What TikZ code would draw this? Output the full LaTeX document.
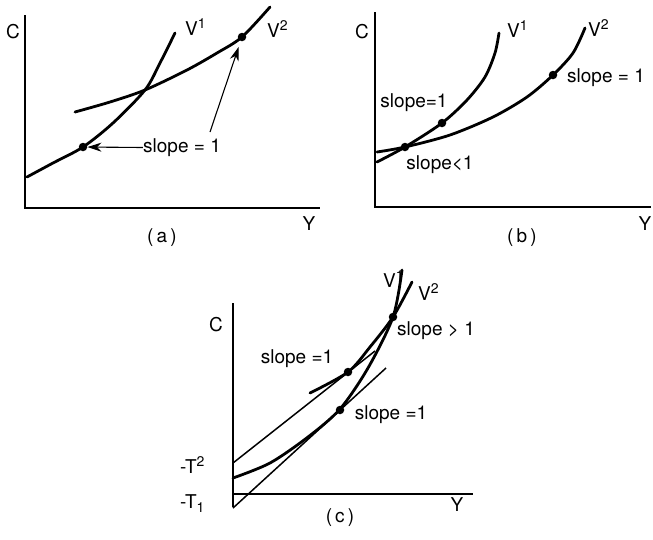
\documentclass[tikz,border=0pt]{standalone}
\usepackage{fontspec}
\setmainfont{TeX Gyre Heros}
\usetikzlibrary{arrows.meta, positioning}

% raised / lowered small digits for the curve and intercept labels
\newcommand{\supnum}[1]{\raisebox{6.5pt}{\fontsize{14}{14}\selectfont #1}}
\newcommand{\subnum}[1]{\raisebox{-4pt}{\fontsize{14}{14}\selectfont #1}}

\tikzset{
  axis/.style={line width=2.3pt},
  curve/.style={line width=2.8pt, line cap=round},
  tangent/.style={line width=1.5pt},
  pointer/.style={line width=1.1pt, -{Stealth[length=14pt, width=9pt]}},
  dot/.style={circle, fill, inner sep=0pt, minimum size=8.5pt},
  lbl/.style={inner sep=0pt},
}

\begin{document}
\begin{tikzpicture}[x=1pt, y=-1pt, font=\fontsize{19}{21}\selectfont]
  \useasboundingbox (0,0) rectangle (653,539);

  % ---------------- panel (a)
  \draw[axis] (25,15) -- (25,208) -- (320,208);
  \node[lbl] (aC) at (13,32) {C};
  \node[lbl] (aY) at (309,224) {Y};
  \node[lbl] (acap) at (162,238) {(\,a\,)};

  % V^1 steep, V^2 flat
  \draw[curve] plot[smooth] coordinates
    {(27,177) (53,163) (83,147) (113,123) (145,90) (160,63) (175,33)};
  \draw[curve] plot[smooth] coordinates
    {(75,112) (110,102) (145,90) (187,70) (217,53) (242,37) (270,7)};
  \node[lbl, anchor=base west] (aV1) at (185,35) {V\supnum{1}};
  \node[lbl, anchor=base west] (aV2) at (267,37) {V\supnum{2}};

  \node[dot] (adot1) at (83,147) {};
  \node[dot] (adot2) at (242,37) {};
  \node[lbl] (aslope) at (182,147.5) {slope = 1};
  \coordinate (afoot) at (210,132);

  \draw[pointer] (aslope.west) -- (adot1);
  \draw[pointer, shorten >=6pt] (afoot) -- (adot2);

  % ---------------- panel (b)
  \draw[axis] (375,12) -- (375,207) -- (651,207);
  \node[lbl] (bC) at (362,32) {C};
  \node[lbl] (bY) at (645,224) {Y};
  \node[lbl] (bcap) at (522,238) {(\,b\,)};

  \draw[curve] plot[smooth] coordinates
    {(377,162) (405,147) (442,123) (467,100) (485,77) (495,53) (499,33)};
  \draw[curve] plot[smooth] coordinates
    {(377,152) (405,147) (450,135) (493,117) (527,97) (553,75) (573,53) (585,28)};
  \node[lbl, anchor=base west] (bV1) at (507,37) {V\supnum{1}};
  \node[lbl, anchor=base west] (bV2) at (588,36) {V\supnum{2}};

  \node[dot] (bdot1) at (405,147) {};
  \node[dot] (bdot2) at (442,123) {};
  \node[dot] (bdot3) at (553,75) {};
  \node[lbl] (bslope1) at (414,102.5) {slope=1};
  \node[lbl] (bslope2) at (440,164.5) {slope<1};
  \node[lbl] (bslope3) at (606,77.5) {slope = 1};

  % ---------------- panel (c)
  \draw[axis] (233,303) -- (233,507);
  \draw[axis] (233,494) -- (473,494);
  \node[lbl] (cC) at (216,325) {C};
  \node[lbl] (cY) at (457,505) {Y};
  \node[lbl] (ccap) at (340,518) {(\,c\,)};
  \node[lbl, anchor=base west] (cT2) at (180,473) {-T\supnum{2}};
  \node[lbl, anchor=base west] (cT1) at (180,508) {-T\subnum{1}};

  \draw[curve] plot[smooth] coordinates
    {(233,478) (270,463) (308,437) (340,409) (368,368) (393,317) (402,270)};
  \draw[curve] plot[smooth] coordinates
    {(310,393) (348,372) (370,347) (393,317) (412,282)};
  \node[lbl, anchor=base west] (cV1) at (383,287) {V\supnum{1}};
  \node[lbl, anchor=base west] (cV2) at (418,300) {V\supnum{2}};

  % tangent lines through the intercepts
  \coordinate (cup0) at (233,463);
  \coordinate (cup1) at (375,351);
  \coordinate (clow0) at (233,508);
  \coordinate (clow1) at (386,368);
  \draw[tangent] (cup0) -- (cup1);
  \draw[tangent] (clow0) -- (clow1);

  \node[dot] (cdot1) at (348,372) {};
  \node[dot] (cdot2) at (340,410) {};
  \node[dot] (cdot3) at (393,317) {};
  \node[lbl] (cslope1) at (297,359) {slope =1};
  \node[lbl] (cslope2) at (391,415) {slope =1};
  \node[lbl] (cslope3) at (436,331) {slope > 1};
\end{tikzpicture}
\end{document}
